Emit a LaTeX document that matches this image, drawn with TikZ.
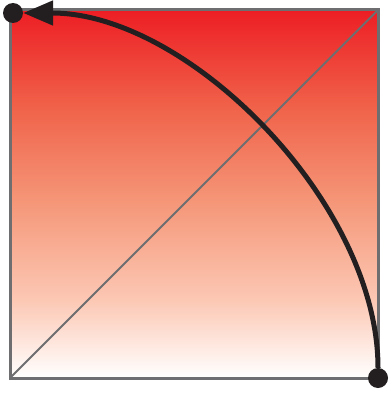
\documentclass[tikz,border=0pt]{standalone}
\usepackage{tikz}
\usetikzlibrary{arrows.meta,positioning,calc}
\definecolor{sqred}{RGB}{237,30,36}
\definecolor{sqorange}{RGB}{240,100,75}
\definecolor{sqsalmon}{RGB}{245,150,120}
\definecolor{sqpale}{RGB}{252,200,180}
\definecolor{sqgray}{RGB}{110,110,112}
\definecolor{inkblack}{RGB}{35,31,32}
\pgfdeclareverticalshading{sqfade}{100bp}{color(0bp)=(white); color(25bp)=(white);
  color(35.6bp)=(sqpale); color(49bp)=(sqsalmon); color(61.4bp)=(sqorange);
  color(75bp)=(sqred); color(100bp)=(sqred)}

\begin{document}
\begin{tikzpicture}[x=1pt,y=1pt,
    dot/.style={circle,fill=inkblack,inner sep=0pt,minimum size=20pt},
    sweep/.style={draw=inkblack,line width=5pt,-{Triangle[length=30pt,width=24pt]}}]
    \useasboundingbox (0,0) rectangle (388,-393);
    \shade[shading=sqfade] (10,-10) rectangle (378,-378);
    \coordinate (bl) at (10,-378);
    \coordinate (tr) at (378,-10);
    \draw[sqgray,line width=2pt] (bl)--(tr);
    \draw[sqgray,line width=3pt] (10,-10) rectangle (378,-378);
    \node[dot] (start) at (378,-378) {};
    \node[dot] (stop) at (13,-13) {};
    \draw[sweep] (start) .. controls +(0,175) and +(175,0) .. (stop);
\end{tikzpicture}
\end{document}
